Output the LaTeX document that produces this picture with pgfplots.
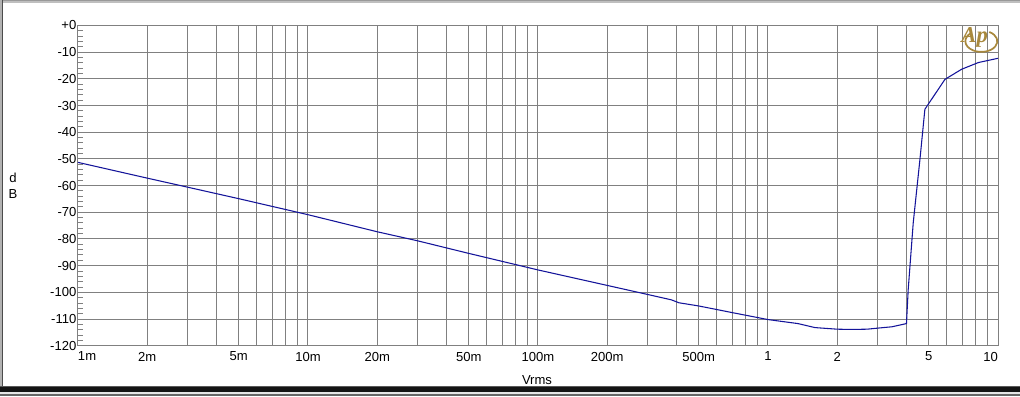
\documentclass[border=0pt]{standalone}
\usepackage{fontspec}
\setmainfont{Liberation Sans}
\newfontfamily\apfont{Liberation Serif}
\usepackage{pgfplots}
\pgfplotsset{compat=1.18}
\definecolor{gridgray}{HTML}{808080}
\definecolor{curveblue}{HTML}{14149A}
\definecolor{apgold}{HTML}{A8883C}

\pgfplotstableread{
V dB
0.001 -51.3
0.002 -57.2
0.003 -60.6
0.005 -64.9
0.01 -70.9
0.02 -77.3
0.03 -80.7
0.05 -85.4
0.1 -91.6
0.2 -97.4
0.3 -100.8
0.38 -102.8
0.41 -103.9
0.5 -105.1
0.7 -107.6
1.0 -110.2
1.35 -111.7
1.6 -113.2
2.0 -113.8
2.3 -113.9
2.7 -113.8
3.0 -113.4
3.46 -112.9
4.0 -111.7
4.07 -99.0
4.28 -74.0
4.58 -50.0
4.81 -31.4
5.88 -20.2
6.95 -16.4
8.21 -13.9
10.0 -12.3
}\datatable

\begin{document}
\begin{tikzpicture}
\path[use as bounding box, fill=white] (0,0) rectangle (765pt,297pt);
\begin{axis}[
  at={(58.5pt,37.7pt)}, anchor=south west,
  scale only axis, width=690pt, height=240.2pt,
  xmode=log, log basis x=10,
  xmin=0.001, xmax=10, ymin=-120, ymax=0,
  xtick={0.001,0.002,0.003,0.004,0.005,0.006,0.007,0.008,0.009,
         0.01,0.02,0.03,0.04,0.05,0.06,0.07,0.08,0.09,
         0.1,0.2,0.3,0.4,0.5,0.6,0.7,0.8,0.9,
         1,2,3,4,5,6,7,8,9,10},
  xticklabels={\makebox[0pt][l]{1m},2m,{},{},5m,{},{},{},{},
               10m,20m,{},{},50m,{},{},{},{},
               100m,200m,{},{},500m,{},{},{},{},
               1,2,{},{},5,{},{},{},{},\makebox[0pt][r]{10}},
  ytick={-120,-110,-100,-90,-80,-70,-60,-50,-40,-30,-20,-10,0},
  yticklabels={-120,-110,-100,-90,-80,-70,-60,-50,-40,-30,-20,-10,+0},
  minor y tick num=4,
  xminorticks=false,
  grid=major,
  major grid style={gridgray, line width=0.75pt},
  axis line style={gridgray, line width=0.75pt},
  every tick/.style={gridgray, line width=0.75pt},
  tick align=inside,
  major tick length=3.75pt, minor tick length=3.75pt,
  ytick pos=left,
  xtick pos=left,
  ticklabel style={font=\fontsize{9.8}{11}\selectfont, text=black},
  xticklabel style={anchor=north, inner sep=0pt, yshift=-4.5pt},
  yticklabel style={anchor=east, inner sep=0pt, xshift=-1pt},
  clip=true,
]
\addplot[curveblue, line width=0.8pt, mark=none] table[x=V, y=dB] {\datatable};
\end{axis}
% labels
\node[font=\fontsize{9.8}{11}\selectfont] at (402.75pt,12pt) {Vrms};
\node[font=\fontsize{9.8}{11}\selectfont] at (9.75pt,164pt) {d};
\node[font=\fontsize{9.8}{11}\selectfont] at (9.75pt,151.5pt) {B};
% AP logo
\draw[apgold, line width=1.3pt] (742pt,273pt) arc[start angle=60, end angle=-230, x radius=12pt, y radius=8pt];
\node[text=apgold, font=\apfont\itshape\bfseries\fontsize{17}{17}\selectfont, inner sep=0pt] at (731pt,269pt) {Ap};
% frame
\fill[black!40] (0,297pt) rectangle (765pt,296.25pt);
\fill[black!25] (0,296.25pt) rectangle (765pt,294.75pt);
\fill[black!30] (0,0) rectangle (1.5pt,297pt);
\fill[black!70] (1.5pt,0) rectangle (2.25pt,297pt);
\fill[black!65] (0,7.5pt) rectangle (765pt,6.75pt);
\fill[black!92] (0,6.75pt) rectangle (765pt,3pt);
\fill[black!10] (0,3pt) rectangle (765pt,1.5pt);
\fill[black!60] (0,1.5pt) rectangle (765pt,0pt);
\end{tikzpicture}
\end{document}
